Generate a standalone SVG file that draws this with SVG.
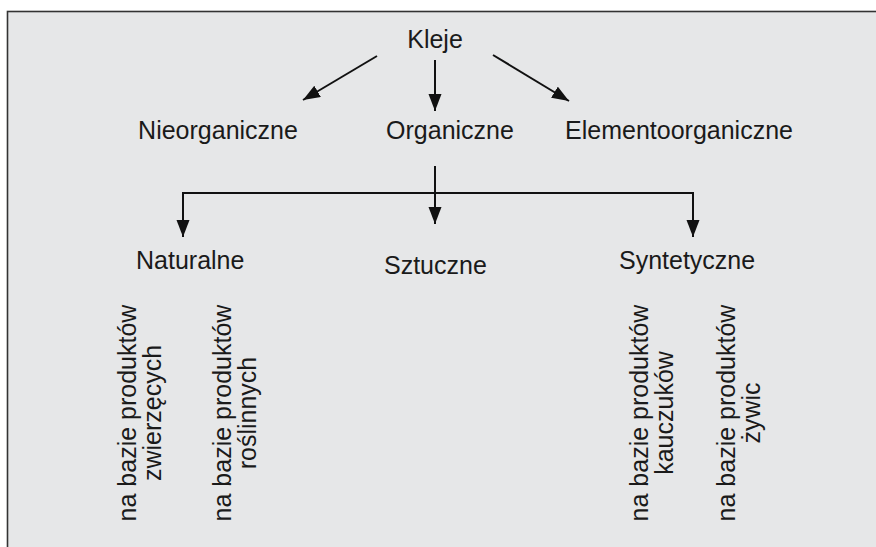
<svg xmlns="http://www.w3.org/2000/svg" width="876" height="547" viewBox="0 0 876 547">
<defs>
<style>
text{font-family:"Liberation Sans",Arial,sans-serif;font-size:25px;fill:#1a1a1a}
.v{font-size:25px;text-anchor:middle}
.c{stroke:#111;stroke-width:2;fill:none}
</style>
<marker id="ah" markerUnits="userSpaceOnUse" markerWidth="18" markerHeight="14" refX="17" refY="6.5" orient="auto">
<path d="M0,0 L17,6.5 L0,13 Z" fill="#111"/>
</marker>
</defs>
<rect x="0" y="0" width="876" height="547" fill="#fff"/>
<rect x="7.5" y="11.5" width="880" height="550" fill="#e6e7e8" stroke="#333" stroke-width="1.6"/>
<g id="connectors">
<line class="c" x1="377" y1="56" x2="303" y2="100" marker-end="url(#ah)"/>
<line class="c" x1="435" y1="60" x2="435" y2="111" marker-end="url(#ah)"/>
<line class="c" x1="493" y1="55" x2="569" y2="101" marker-end="url(#ah)"/>
<line class="c" x1="435" y1="166" x2="435" y2="224" marker-end="url(#ah)"/>
<polyline class="c" points="183,237 183,193 693,193 693,237" marker-end="url(#ah)"/>
<line class="c" x1="183" y1="200" x2="183" y2="237" marker-end="url(#ah)"/>
</g>
<g id="kleje"><text x="435" y="48" text-anchor="middle">Kleje</text></g>
<g id="nieorganiczne"><text x="218" y="139" text-anchor="middle">Nieorganiczne</text></g>
<g id="organiczne"><text x="450" y="139" text-anchor="middle">Organiczne</text></g>
<g id="elementoorganiczne"><text x="679" y="139" text-anchor="middle">Elementoorganiczne</text></g>
<g id="naturalne"><text x="136" y="269">Naturalne</text></g>
<g id="sztuczne"><text x="384" y="274">Sztuczne</text></g>
<g id="syntetyczne"><text x="619" y="269">Syntetyczne</text></g>
<g id="zwierzecych"><text class="v" transform="translate(136,413) rotate(-90)"><tspan x="0" y="0">na bazie produktów</tspan><tspan x="0" y="25">zwierzęcych</tspan></text></g>
<g id="roslinnych"><text class="v" transform="translate(231,413) rotate(-90)"><tspan x="0" y="0">na bazie produktów</tspan><tspan x="0" y="25">roślinnych</tspan></text></g>
<g id="kauczukow"><text class="v" transform="translate(648,413) rotate(-90)"><tspan x="0" y="0">na bazie produktów</tspan><tspan x="0" y="25">kauczuków</tspan></text></g>
<g id="zywic"><text class="v" transform="translate(735,413) rotate(-90)"><tspan x="0" y="0">na bazie produktów</tspan><tspan x="0" y="25">żywic</tspan></text></g>
</svg>
